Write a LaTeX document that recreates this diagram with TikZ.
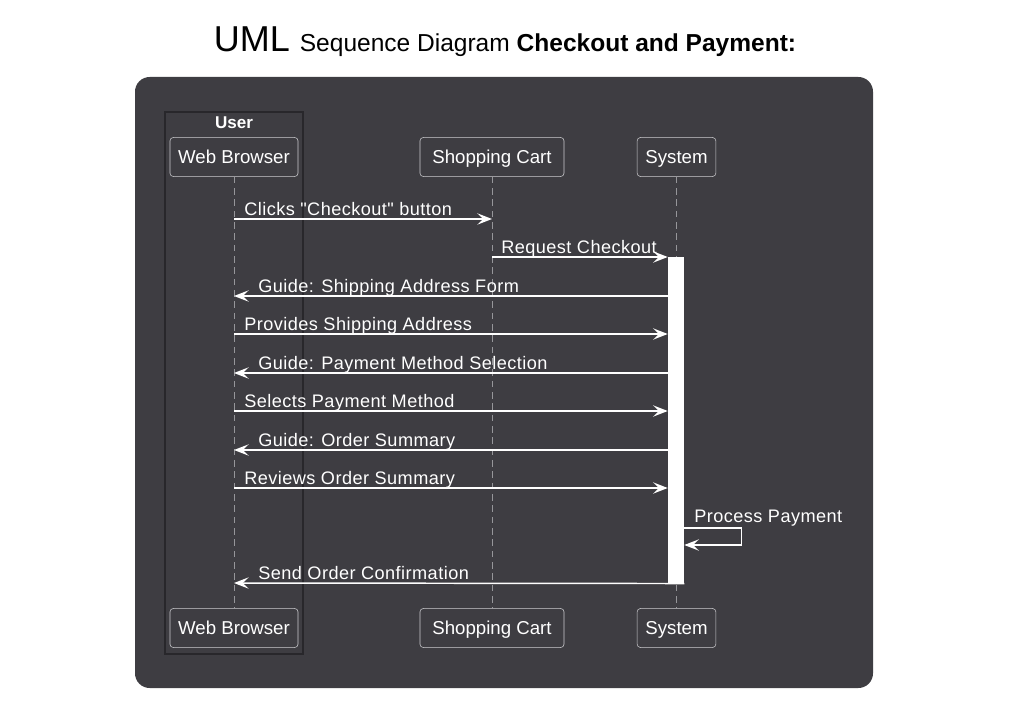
\documentclass[tikz,border=0pt]{standalone}
\usepackage{fontspec}
\setmainfont{Liberation Sans}
\newfontfamily\msgfont[LetterSpace=2.5]{Liberation Sans}
\usetikzlibrary{arrows.meta}
\definecolor{panel}{RGB}{62,61,66}
\definecolor{grpline}{RGB}{40,39,43}
\definecolor{lifeline}{RGB}{150,150,154}
\definecolor{boxline}{RGB}{205,205,208}

\begin{document}
\begin{tikzpicture}[x=0.75pt,y=-0.75pt,
  actor/.style={draw=boxline,rounded corners=2.5pt,text=white,minimum height=29.3pt,
    inner sep=0pt,text height=10pt,text depth=0pt,font=\fontsize{14}{15}\selectfont},
  life/.style={draw=lifeline,dashed,dash pattern=on 5pt off 3.5pt,line width=0.6pt},
  msg/.style={draw=white,line width=1.1pt,-{Stealth[length=11pt,width=8.5pt,inset=4.5pt]}},
  msglabel/.style={text=white,anchor=base west,inner sep=0pt,font=\msgfont\fontsize{13.6}{15}\selectfont}]
\useasboundingbox (0,0) rectangle (1010,710);

% title
\node (title) [anchor=base,inner sep=0pt] at (505,52)
  {\fontsize{27}{30}\selectfont UML \fontsize{18.4}{20}\selectfont Sequence Diagram \textbf{Checkout and Payment:}};

% panel
\fill[panel,rounded corners=11pt] (135,77) rectangle (873,688);

% user group
\draw[grpline,line width=0.9pt] (165,112) rectangle (303,654);
\node (user) [text=white,font=\bfseries\fontsize{12.8}{14}\selectfont] at (234,123) {User};

% participants
\node (wbT) [actor,minimum width=96pt] at (234,157) {Web Browser};
\node (scT) [actor,minimum width=108pt] at (492,157) {Shopping Cart};
\node (sysT) [actor,minimum width=59pt] at (676.5,157) {System};
\node (wbB) [actor,minimum width=96pt] at (234,628) {Web Browser};
\node (scB) [actor,minimum width=108pt] at (492,628) {Shopping Cart};
\node (sysB) [actor,minimum width=59pt] at (676.5,628) {System};

% lifelines
\draw[life] (wbT.south) -- (wbB.north);
\draw[life] (scT.south) -- (scB.north);
\draw[life] (sysT.south) -- (sysB.north);

% activation
\node (act) [fill=white,inner sep=0pt,minimum width=12pt,minimum height=244.5pt,anchor=north] at (676,257) {};

% message rows
\coordinate (m1) at (0,219);
\coordinate (m2) at (0,257);
\coordinate (m3) at (0,296);
\coordinate (m4) at (0,334);
\coordinate (m5) at (0,373);
\coordinate (m6) at (0,411);
\coordinate (m7) at (0,450);
\coordinate (m8) at (0,488);
\coordinate (m9) at (0,528);
\coordinate (m10) at (0,583);

\draw[msg] (wbT |- m1) -- (scT |- m1);
\node (l1) [msglabel] at (244,215) {Clicks "Checkout" button};
\draw[msg] (scT |- m2) -- (act.west |- m2);
\node (l2) [msglabel] at (501,253) {Request Checkout};
\draw[msg] (act.west |- m3) -- (wbT |- m3);
\node (l3) [msglabel] at (258,292) {Guide: Shipping Address Form};
\draw[msg] (wbT |- m4) -- (act.west |- m4);
\node (l4) [msglabel] at (244,330) {Provides Shipping Address};
\draw[msg] (act.west |- m5) -- (wbT |- m5);
\node (l5) [msglabel] at (258,369) {Guide: Payment Method Selection};
\draw[msg] (wbT |- m6) -- (act.west |- m6);
\node (l6) [msglabel] at (244,407) {Selects Payment Method};
\draw[msg] (act.west |- m7) -- (wbT |- m7);
\node (l7) [msglabel] at (258,446) {Guide: Order Summary};
\draw[msg] (wbT |- m8) -- (act.west |- m8);
\node (l8) [msglabel] at (244,484) {Reviews Order Summary};
\draw[msg] (act.east |- m9) -- ++(57,0) -- ++(0,17) -- (act.east |- 0,545);
\node (l9) [msglabel] at (694,522) {Process Payment};
\draw[msg] (act.south east) -- (wbT |- m10);
\node (l10) [msglabel] at (258,579) {Send Order Confirmation};
\end{tikzpicture}
\end{document}
